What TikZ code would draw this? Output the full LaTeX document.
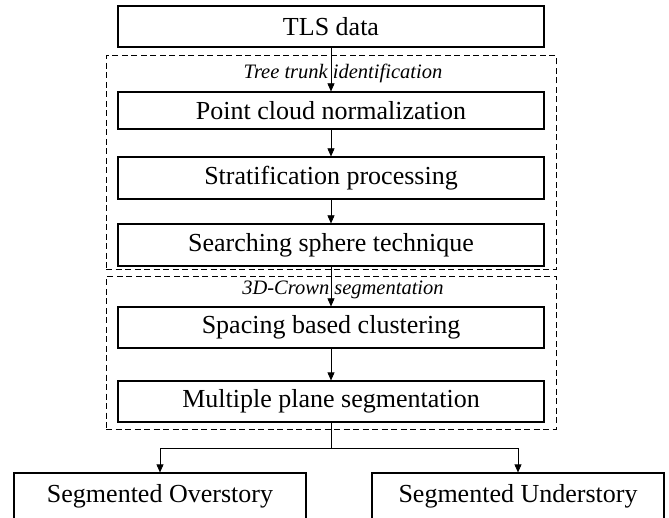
\documentclass[tikz,border=0pt]{standalone}
\usepackage{fontspec}
\setmainfont{Liberation Serif}
\usetikzlibrary{arrows.meta}
\begin{document}
\begin{tikzpicture}[x=1pt,y=-1pt,
 box/.style={draw, line width=1.2pt, inner sep=0pt, minimum width=426pt, font=\fontsize{26}{30}\selectfont},
 leaf/.style={draw, line width=1.2pt, inner sep=0pt, minimum width=292pt, minimum height=46pt, font=\fontsize{26}{30}\selectfont},
 grp/.style={draw, line width=1pt, dash pattern=on 6pt off 3.5pt, inner sep=0pt, minimum width=450pt},
 lbl/.style={inner sep=0pt, font=\fontsize{20.5}{24}\selectfont\itshape},
 conn/.style={line width=0.7pt},
 arr/.style={line width=0.7pt, -{Triangle[length=8pt,width=7pt]}}]
\useasboundingbox (0,0) rectangle (669,518);
% groups
\node[grp, minimum height=214pt] (g1) at (331,163) {};
\node[grp, minimum height=152pt] (g2) at (331,353) {};
\node[lbl] (l1) at (343,73) {Tree trunk identification};
\node[lbl] (l2) at (343,290) {3D-Crown segmentation};
% boxes
\node[box, minimum height=41pt] (tls) at (331,26.5) {TLS data};
\node[box, minimum height=37pt] (pcn) at (331,110.5) {Point cloud normalization};
\node[box, minimum height=42pt] (str) at (331,178) {Stratification processing};
\node[box, minimum height=42pt] (sst) at (331,245) {Searching sphere technique};
\node[box, minimum height=41pt] (sbc) at (331,327.5) {Spacing based clustering};
\node[box, minimum height=41pt] (mps) at (331,401.5) {Multiple plane segmentation};
\node[leaf] (over) at (160,496) {Segmented Overstory};
\node[leaf] (under) at (518,496) {Segmented Understory};
% connectors
\draw[arr] (tls) -- (pcn);
\draw[arr] (pcn) -- (str);
\draw[arr] (str) -- (sst);
\draw[arr] (sst) -- (sbc);
\draw[arr] (sbc) -- (mps);
\coordinate (split) at (331,448);
\draw[conn] (mps) -- (split);
\draw[arr] (split) -| (over);
\draw[arr] (split) -| (under);
\end{tikzpicture}
\end{document}
